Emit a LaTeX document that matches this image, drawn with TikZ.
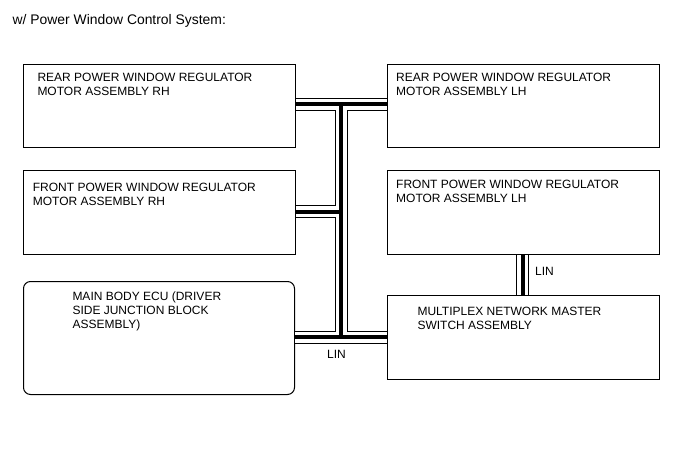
\documentclass[tikz,border=0pt]{standalone}
\usepackage{fontspec}
\setmainfont{Liberation Sans}
\newcommand\cablepaths[1]{%
  \draw[#1] (rrh.east |- jt) -- (rlh.west |- jt);
  \draw[#1] (jt) -- (jb);
  \draw[#1] (frh.east |- jf) -- (jf);
  \draw[#1] (ecu.east |- jb) -- (mpx.west |- jb);
  \draw[#1] (flh.south -| vx) -- (mpx.north -| vx);}
\begin{document}
\begin{tikzpicture}[x=1pt,y=-1pt,
  box/.style={draw, line width=1pt, rectangle, inner sep=0pt, anchor=north west, minimum width=272pt},
  lbl/.style={anchor=north west, inner sep=0pt, align=left, font=\fontsize{12}{14.3}\selectfont},
  busout/.style={line width=13pt, black},
  busgap/.style={line width=11pt, white},
  buscore/.style={line width=4pt, black}]
\useasboundingbox (0,0) rectangle (688,463);
\node[anchor=base west, inner sep=0pt, font=\fontsize{13.9}{16}\selectfont] (title) at (12.5,24) {w/ Power Window Control System:};
% boxes
\node[box, minimum height=83pt] (rrh) at (23,64) {};
\node[box, minimum height=83pt] (rlh) at (387,64) {};
\node[box, minimum height=84pt] (frh) at (23,170) {};
\node[box, minimum height=84pt] (flh) at (387,170) {};
\node[box, minimum width=271pt, minimum height=113pt, rounded corners=7pt] (ecu) at (23,281) {};
\node[box, minimum height=84pt] (mpx) at (387,295) {};
% texts
\node[lbl] (trrh) at (37.3,73) {REAR POWER WINDOW REGULATOR\\MOTOR ASSEMBLY RH};
\node[lbl] (trlh) at (396,73) {REAR POWER WINDOW REGULATOR\\MOTOR ASSEMBLY LH};
\node[lbl] (tfrh) at (32.7,183) {FRONT POWER WINDOW REGULATOR\\MOTOR ASSEMBLY RH};
\node[lbl] (tflh) at (396,179.5) {FRONT POWER WINDOW REGULATOR\\MOTOR ASSEMBLY LH};
\node[lbl] (tecu) at (72.3,291.5) {MAIN BODY ECU (DRIVER\\SIDE JUNCTION BLOCK\\ASSEMBLY)};
\node[lbl] (tmpx) at (417.3,306.5) {MULTIPLEX NETWORK MASTER\\SWITCH ASSEMBLY};
\node[lbl] (lin1) at (327,350.5) {LIN};
\node[lbl] (lin2) at (535,267) {LIN};
% bus
\coordinate (jt) at (341.3,104.3);
\coordinate (jf) at (341.3,211.7);
\coordinate (jb) at (341.3,337);
\coordinate (vx) at (522.7,0);
\cablepaths{busout}
\cablepaths{busgap}
\cablepaths{buscore}
\end{tikzpicture}
\end{document}
